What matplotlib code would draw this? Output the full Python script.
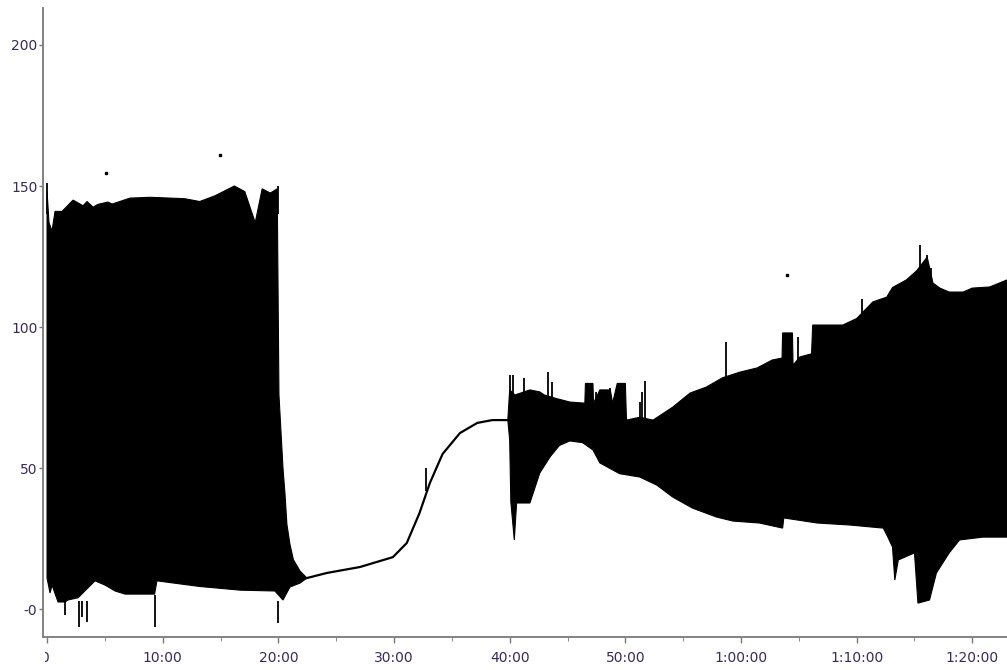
import numpy as np
import matplotlib
matplotlib.use("Agg")
import matplotlib.pyplot as plt
from matplotlib.transforms import Bbox, TransformedBbox

# time in minutes, values read off the trace envelope
# first block (0 - 22 min), upper and lower edge
up_a_t = [0.0, 0.17, 0.43, 0.69, 1.30, 2.25, 3.11, 3.46, 3.98, 4.41, 5.27, 5.62, 7.17, 8.90,
          11.9, 13.2, 14.5, 16.2, 17.1, 18.0, 18.6, 19.3, 19.9, 20.05, 20.4, 20.57, 20.74,
          21.0, 21.3, 21.87, 22.47]
up_a_v = [148, 137, 134, 141, 141, 145, 143, 144.5, 142.5, 143.5, 144.3, 143.6, 145.7, 146,
          145.5, 144.5, 146.5, 150, 148, 137, 149, 147.5, 149, 76, 50, 41, 30,
          23, 17.5, 13.5, 11]
lo_a_t = [0.0, 0.26, 0.43, 0.95, 1.56, 1.8, 2.68, 4.15, 5.01, 5.88, 6.74, 9.3, 9.5, 13.2,
          16.7, 19.7, 20.4, 21.0, 21.87, 22.47]
lo_a_v = [11, 5.7, 8.5, 2.5, 2.5, 3.2, 4, 10, 8.5, 6.4, 5.3, 5.3, 10, 8,
          6.7, 6.4, 3.2, 7.8, 9.2, 11]

# single trace between the two blocks
line_t = [22.47, 24.2, 27.05, 29.9, 31.1, 32.2, 33.1, 34.2, 35.7, 37.2, 38.5, 39.84]
line_v = [11, 12.8, 14.9, 18.4, 23.4, 34, 44.7, 55, 62.4, 66, 67, 67]

# second block (40 min - end)
up_c_t = [39.84, 40.0, 40.45, 41.75, 42.6, 43.0, 43.9, 45.2, 46.5, 46.55, 47.2, 47.25, 47.8,
          48.7, 48.9, 49.3, 50.0, 50.1, 51.25, 52.4, 54.1, 55.6, 57.0, 58.4, 59.9, 61.4, 62.7,
          63.55, 63.6, 64.45, 64.5, 65.1, 66.1, 66.2, 68.5, 68.8, 70.0, 71.4, 72.6, 73.1, 74.3,
          75.2, 76.1, 76.6, 77.2, 78.0, 79.2, 80.0, 81.5, 83.0]
up_c_v = [67, 77.7, 75.9, 77.7, 77, 75.9, 74.8, 73.4, 73, 80, 80, 73, 77.7,
          77.7, 73, 80, 80, 67, 68, 67, 71.6, 76.6, 78.7, 82, 84, 85.5, 88.3,
          89, 97.9, 97.9, 86.5, 89.4, 90.5, 100.7, 100.7, 100.7, 103, 108.9, 110.6, 114, 116.7,
          120, 124.8, 115.6, 113.8, 112.4, 112.4, 113.8, 114.2, 116.7]
lo_c_t = [39.84, 40.0, 40.1, 40.4, 40.6, 41.75, 42.6, 43.5, 44.3, 45.2, 46.3, 47.2, 47.8,
          49.5, 51.25, 52.7, 54.1, 55.8, 57.9, 59.3, 61.6, 63.6, 63.7, 66.6, 69.4, 72.3,
          72.7, 73.1, 73.3, 73.6, 75.0, 75.3, 76.3, 76.9, 78.0, 78.9, 80.9, 83.0]
lo_c_v = [67, 60, 38, 24.5, 37.6, 37.6, 48.2, 54, 58, 59.6, 59, 56.4, 51.8,
          48, 46.8, 44, 39.7, 35.8, 32.6, 31.2, 30.5, 28.7, 32.3, 30.5, 29.8, 28.7,
          25.5, 22, 10.3, 17.4, 19.9, 2.1, 3.2, 12.8, 19.9, 24.5, 25.5, 25.5]

# narrow spikes sticking out of the envelope: (time, base, tip)
spike_t = [0.0, 19.95, 40.0, 40.3, 41.2, 43.3, 43.7, 47.5, 48.7, 51.3, 51.4, 51.7, 58.7,
           64.9, 70.5, 75.45, 76.1, 76.4, 32.8, 2.77, 3.02, 1.55, 3.48, 9.33, 19.97]
spike_lo = [140, 140, 70, 70, 70, 70, 70, 70, 70, 65, 65, 65, 80,
            86, 104, 118, 118, 114, 42, 3, 3, 3, 3, 5, 3]
spike_hi = [151, 150, 83, 83, 82, 84, 80.5, 77, 78.5, 73.4, 77, 81, 94.7,
            96.5, 110, 129, 125.5, 121, 50, -6.4, -2.8, -2, -4.6, -6.4, -5]

dot_t = [5.1, 14.95, 63.96]
dot_v = [154.6, 161, 118.4]

xticks = [0, 10, 20, 30, 40, 50, 60, 70, 80]
xlabels = ["0", "10:00", "20:00", "30:00", "40:00", "50:00", "1:00:00", "1:10:00", "1:20:00"]
yticks = [0, 50, 100, 150, 200]
ylabels = ["-0", "50", "100", "150", "200"]

lab_color = "#3a2a58"
spine_color = "#7a7a7a"

fig = plt.figure(figsize=(10.07, 6.70), dpi=100)
ax_left = 0.0427
ax = fig.add_axes([ax_left, 0.0493, 1 - ax_left, 0.9387])

ax.fill(np.concatenate([up_a_t, lo_a_t[::-1]]), np.concatenate([up_a_v, lo_a_v[::-1]]),
        color="black", lw=0.8)
ax.fill(np.concatenate([up_c_t, lo_c_t[::-1]]), np.concatenate([up_c_v, lo_c_v[::-1]]),
        color="black", lw=0.8)
ax.plot(line_t, line_v, color="black", lw=1.6)
ax.vlines(spike_t, spike_lo, spike_hi, color="black", lw=1.3)
ax.plot(dot_t, dot_v, "s", color="black", ms=1.5)

ax.set_xlim(-0.35, 83.0)
ax.set_ylim(-9.9, 213.1)

for s in ["top", "right"]:
    ax.spines[s].set_visible(False)
for s in ["left", "bottom"]:
    ax.spines[s].set_color(spine_color)
    ax.spines[s].set_linewidth(1.3)

ax.set_xticks(xticks)
ax.set_xticklabels([""] + xlabels[1:])
ax.set_xticks(np.arange(5, 83, 10), minor=True)
ax.set_yticks(yticks)
ax.set_yticklabels(ylabels)
ax.tick_params(axis="both", colors=spine_color, labelcolor=lab_color, labelsize=10,
               length=4, width=1, pad=2)
ax.tick_params(axis="x", pad=6)
ax.tick_params(axis="x", which="minor", length=3, colors=spine_color)
ax.tick_params(axis="y", length=3, pad=1)

# the first x label is cut off at the left edge of the plot
t0 = ax.text(xticks[0] - 0.25, -0.023, xlabels[0], transform=ax.get_xaxis_transform(),
             ha="center", va="top", fontsize=10, color=lab_color)
t0.set_clip_box(TransformedBbox(Bbox([[ax_left + 0.0015, 0], [1, 1]]), fig.transFigure))
t0.set_clip_on(True)

fig.savefig("out.png", dpi=100)
